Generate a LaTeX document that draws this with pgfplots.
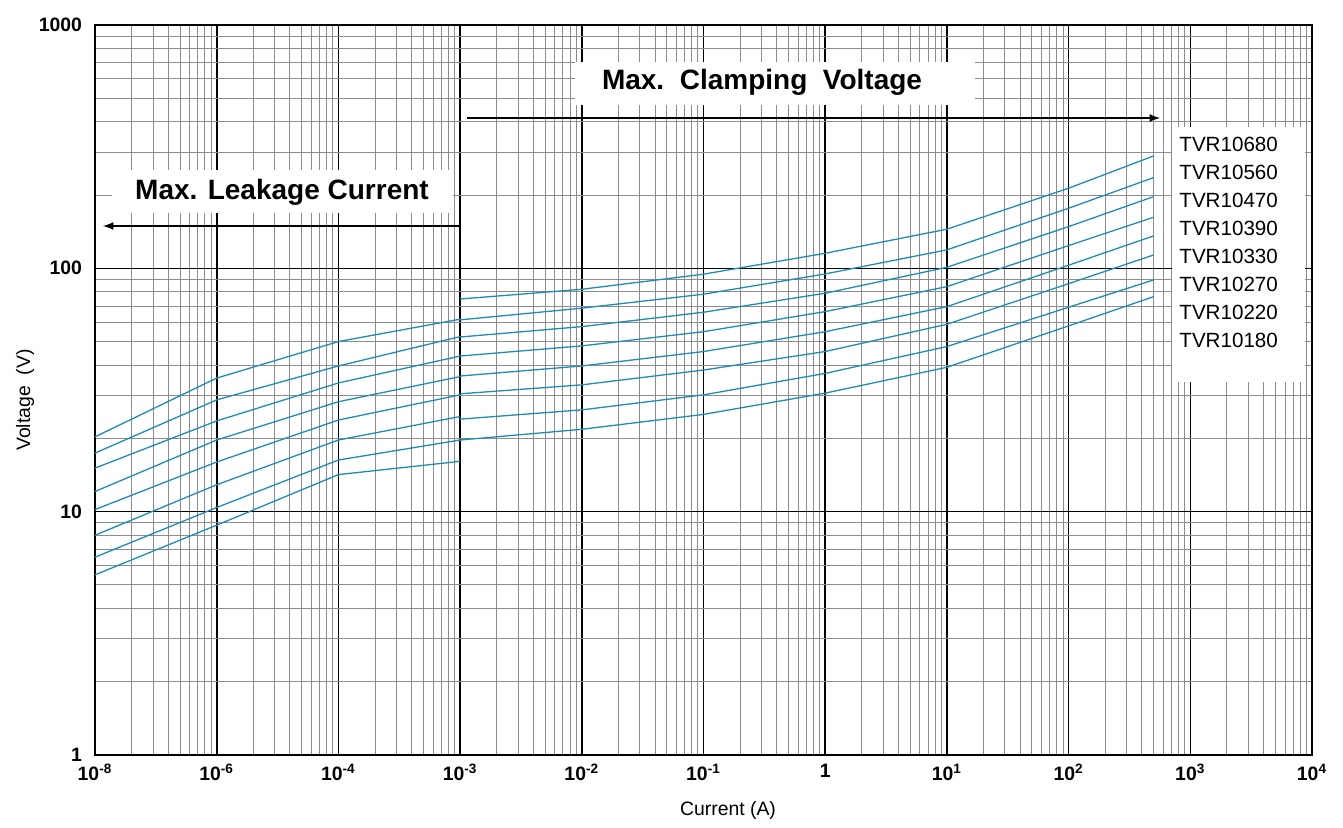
\documentclass[border=0pt]{standalone}
\usepackage{fontspec}
\setmainfont{Liberation Sans}
\usepackage{pgfplots}
\pgfplotsset{compat=1.18}
\definecolor{curve}{RGB}{30,140,180}
\pgfplotsset{vcurve/.style={curve, solid, line width=0.65pt, mark=none}}
% x is the position on the chart's decade scale: 1=1e-8 A, 10=1e-6 A, 100=1e-4 A,
% 1e3=1e-3 A, and from there x = current(A)*1e6
\begin{document}
\begin{tikzpicture}
\path[use as bounding box] (-47.5pt,-36.5pt) rectangle (624pt,377.5pt);
\begin{axis}[
  at={(0,0)}, anchor=south west,
  scale only axis, width=608.5pt, height=365pt,
  xmode=log, ymode=log,
  xmin=1, xmax=1e10, ymin=1, ymax=1000,
  xtick={1,1e1,1e2,1e3,1e4,1e5,1e6,1e7,1e8,1e9,1e10},
  xticklabels={10\textsuperscript{-8},10\textsuperscript{-6},10\textsuperscript{-4},10\textsuperscript{-3},10\textsuperscript{-2},10\textsuperscript{-1},1,10\textsuperscript{1},10\textsuperscript{2},10\textsuperscript{3},10\textsuperscript{4}},
  ytick={1,10,100,1000},
  yticklabels={1,10,100,1000},
  xticklabel style={font=\bfseries\fontsize{9.7}{11}\selectfont, yshift=-1pt},
  yticklabel style={font=\bfseries\fontsize{9.7}{11}\selectfont, xshift=-3pt},
  grid=both,
  major grid style={black, line width=0.8pt},
  minor grid style={black!45, line width=0.5pt},
  major tick length=0pt, minor tick length=0pt,
  axis line style={black, line width=0.6pt},
]
% Max. leakage current part
\addplot[vcurve] coordinates {(1,20.3) (10,35.4) (100,50.0) (1e3,61.8)};
\addplot[vcurve] coordinates {(1,17.4) (10,28.8) (100,39.7) (1e3,52.4)};
\addplot[vcurve] coordinates {(1,15.1) (10,23.6) (100,33.8) (1e3,43.6)};
\addplot[vcurve] coordinates {(1,12.1) (10,19.7) (100,28.3) (1e3,35.9)};
\addplot[vcurve] coordinates {(1,10.2) (10,16.0) (100,23.8) (1e3,30.2)};
\addplot[vcurve] coordinates {(1,8.0) (10,12.9) (100,19.7) (1e3,24.6)};
\addplot[vcurve] coordinates {(1,6.5) (10,10.4) (100,16.3) (1e3,19.7)};
\addplot[vcurve] coordinates {(1,5.5) (10,8.8) (100,14.2) (1e3,16.1)};
% Max. clamping voltage part
\addplot[vcurve] coordinates {(1e3,74.8) (1e4,82.0) (1e5,94.6) (1e6,115.3) (1e7,144.8) (1e8,213.4) (5e8,289.7)};
\addplot[vcurve] coordinates {(1e3,61.4) (1e4,68.6) (1e5,78.3) (1e6,94.8) (1e7,119.1) (1e8,176.6) (5e8,236.0)};
\addplot[vcurve] coordinates {(1e3,52.2) (1e4,57.6) (1e5,66.0) (1e6,79.0) (1e7,101.0) (1e8,148.4) (5e8,197.1)};
\addplot[vcurve] coordinates {(1e3,43.6) (1e4,48.0) (1e5,54.9) (1e6,66.4) (1e7,84.1) (1e8,124.0) (5e8,162.2)};
\addplot[vcurve] coordinates {(1e3,36.1) (1e4,39.7) (1e5,45.5) (1e6,54.9) (1e7,69.6) (1e8,103.0) (5e8,135.9)};
\addplot[vcurve] coordinates {(1e3,30.5) (1e4,33.2) (1e5,38.2) (1e6,45.5) (1e7,58.9) (1e8,86.5) (5e8,113.5)};
\addplot[vcurve] coordinates {(1e3,24.0) (1e4,26.2) (1e5,30.2) (1e6,37.0) (1e7,47.7) (1e8,69.2) (5e8,89.6)};
\addplot[vcurve] coordinates {(1e3,19.7) (1e4,21.8) (1e5,25.1) (1e6,30.7) (1e7,39.2) (1e8,58.0) (5e8,76.5)};
\end{axis}
% annotations
\fill[white] (8.5pt,271pt) rectangle (179pt,292.5pt);
\node[font=\bfseries\fontsize{14}{16}\selectfont] at (93.5pt,281.5pt) {Max. Leakage Current};
\draw[black, line width=0.8pt, -latex] (182.5pt,264.5pt) -- (4pt,264.5pt);
\fill[white] (240pt,325pt) rectangle (440pt,346.5pt);
\node[font=\bfseries\fontsize{14}{16}\selectfont] at (333.5pt,336.5pt) {Max.\ \ Clamping\ \ Voltage};
\draw[black, line width=0.8pt, -latex] (186pt,318.5pt) -- (532.5pt,318.5pt);
\fill[white] (538.5pt,186.5pt) rectangle (605pt,314pt);
\foreach \n [count=\i from 0] in {TVR10680,TVR10560,TVR10470,TVR10390,TVR10330,TVR10270,TVR10220,TVR10180}
  \node[anchor=west, inner sep=0pt, font=\fontsize{10.3}{12}\selectfont] at (542pt,305.5pt-\i*14pt) {\n};
\node[font=\fontsize{9.7}{11}\selectfont] at (316.5pt,-27.5pt) {Current (A)};
\node[rotate=90, font=\fontsize{9.7}{11}\selectfont] at (-35pt,177.5pt) {Voltage\ \ (V)};
\end{tikzpicture}
\end{document}
